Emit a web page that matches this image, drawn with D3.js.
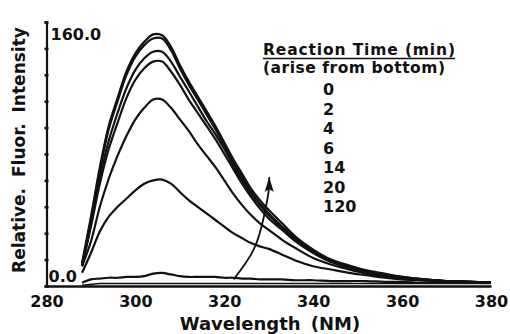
<!DOCTYPE html>
<html>
<head>
<meta charset="utf-8">
<script src="https://cdn.jsdelivr.net/npm/d3@7"></script>
<style>
  html, body { margin: 0; padding: 0; background: #fff; }
  svg text { font-family: "DejaVu Sans", sans-serif; font-weight: 700; fill: #111; }
</style>
</head>
<body>
<svg id="chart" width="510" height="334"></svg>
<script>
// emission wavelengths (nm) shared by every scan
var wavelengths = [288, 290, 292, 294, 296, 298, 300, 302, 304, 306, 308, 310, 312, 314, 316, 318, 320,
  322, 324, 326, 328, 330, 333, 336, 340, 344, 348, 352, 356, 360, 365, 370, 375, 380];

// relative fluorescence for each reaction time (min)
var t0   = [2, 4, 4.5, 5, 5, 5.5, 5.5, 6, 7.5, 8, 7, 6, 5.5, 5.5, 5.5, 5.5, 5,
  5, 4.5, 4.5, 4, 4, 4, 3.5, 3.5, 3, 3, 3, 2.5, 2.5, 2, 2, 2, 2];
var t2   = [8, 20, 33, 42, 48, 53, 58, 62, 64, 64.5, 62, 57, 52, 48, 44, 40, 36,
  32, 29, 26, 24, 22.5, 19, 15.5, 12, 10, 8, 6.5, 5, 4, 3.5, 3, 2.5, 2];
var t4   = [12, 27, 48, 65, 79, 91, 101, 108, 113, 113, 108, 101, 94, 86, 79, 72, 64,
  56, 49, 43, 38, 34, 28, 23, 17, 13, 10, 7.5, 6, 4.5, 3.5, 3, 2.5, 2];
var t6   = [12, 36, 62, 83, 99, 114, 125, 132, 136, 136, 130, 122, 113, 105, 97, 89, 80,
  71, 62, 54, 47, 41, 34, 27, 20, 14.5, 11, 8.5, 6.5, 5, 3.5, 3, 2.5, 2];
var t14  = [12, 38, 66, 88, 105, 120, 131, 138, 142, 142, 136, 127, 118, 109, 100, 92, 83,
  73, 64, 56, 49, 43, 35, 28, 20.5, 15, 11.5, 9, 7, 5, 4, 3, 2.5, 2];
var t20  = [13, 40, 70, 95, 112, 128, 139, 146, 150, 150, 143, 132, 122, 113, 104, 95, 85,
  75, 66, 57, 50, 44, 36, 29, 21, 15.5, 12, 9, 7, 5.5, 4, 3, 2.5, 2];
var t120 = [14, 42, 72, 97, 114, 130, 141, 148, 152.5, 152, 145, 134, 124, 115, 106, 97, 87,
  77, 68, 59, 52, 46, 38, 30, 22, 16, 12.5, 9.5, 7.5, 5.5, 4, 3, 2.5, 2];
// faint trace lying just on the baseline
var blank = [0.5, 1, 1.5, 1.5, 1.5, 1.5, 1.5, 1.5, 1.5, 1.5, 1.5, 1.5, 1.5, 1.5, 1.5, 1.5, 1.5,
  1.5, 1.5, 1.5, 1.5, 1.5, 1.5, 1.5, 1.5, 1.5, 1.5, 1.5, 1.5, 1.5, 1.5, 1.5, 1.5, 1.5];

var series = [t0, t2, t4, t6, t14, t20, t120, blank];
var legendTimes = ['0', '2', '4', '6', '14', '20', '120'];
var xTicks = [280, 300, 320, 340, 360, 380];
var yTicks = [0, 16, 32, 48, 64, 80, 96, 112, 128, 144, 160];

// "arise from bottom" arrow, in data units [nm, intensity]
var arrowPts = [[322.1, 4], [326.6, 22], [328.9, 42], [330, 58], [330.1, 66]];

var svg = d3.select('#chart');

var x = d3.scaleLinear().domain([280, 380]).range([46.5, 491]);
var y = d3.scaleLinear().domain([0, 160]).range([286, 22]);

var line = d3.line()
  .x((d) => x(d[0]))
  .y((d) => y(d[1]))
  .curve(d3.curveCatmullRom);

// spectra
svg.append('g')
  .selectAll('path')
  .data(series)
  .enter().append('path')
    .attr('d', (s) => line(wavelengths.map((w, i) => [w, s[i]])))
    .attr('fill', 'none')
    .attr('stroke', '#111')
    .attr('stroke-width', (s, i) => i === series.length - 1 ? 1.6 : 2.2)
    .attr('stroke-linejoin', 'round');

// y axis: ticks only, end labels drawn inside
var yAxis = svg.append('g')
  .attr('transform', 'translate(' + x(280) + ',0)')
  .call(d3.axisLeft(y).tickValues(yTicks).tickSize(2).tickFormat(''));
yAxis.select('.domain').attr('stroke', '#111').attr('stroke-width', 2.2);
yAxis.selectAll('.tick line').attr('stroke', '#111').attr('stroke-width', 2.5)
  .attr('x1', 2).attr('x2', -2);

// x axis: baseline plus labels, no tick marks
var xAxis = svg.append('g')
  .attr('transform', 'translate(0,' + y(0) + ')')
  .call(d3.axisBottom(x).tickValues(xTicks).tickSize(0).tickPadding(10).tickFormat(d3.format('d')));
xAxis.select('.domain').attr('stroke', '#111').attr('stroke-width', 2.6);
xAxis.selectAll('.tick text')
  .attr('font-size', 16)
  .attr('font-family', '"DejaVu Sans", sans-serif')
  .attr('font-weight', 700)
  .attr('fill', '#111');

svg.append('text')
  .attr('x', x(280) + 4).attr('y', y(160) + 18)
  .attr('font-size', 16)
  .text('160.0');
svg.append('text')
  .attr('x', x(280) + 2).attr('y', y(0) - 4)
  .attr('font-size', 16)
  .text('0.0');

// axis titles
svg.append('text')
  .attr('x', 270).attr('y', 330)
  .attr('text-anchor', 'middle')
  .attr('font-size', 18)
  .attr('word-spacing', 4)
  .text('Wavelength (NM)');
svg.append('text')
  .attr('transform', 'translate(25,150) rotate(-90)')
  .attr('text-anchor', 'middle')
  .attr('font-size', 17)
  .attr('word-spacing', 5)
  .text('Relative. Fluor. Intensity');

// legend
var legend = svg.append('g');
legend.append('text')
  .attr('x', 263).attr('y', 55)
  .attr('font-size', 15.5)
  .attr('textLength', 192)
  .text('Reaction Time (min)');
legend.append('line')
  .attr('x1', 263).attr('x2', 455)
  .attr('y1', 58.5).attr('y2', 58.5)
  .attr('stroke', '#111').attr('stroke-width', 1.6);
legend.append('text')
  .attr('x', 263).attr('y', 73)
  .attr('font-size', 15.5)
  .attr('textLength', 182)
  .text('(arise from bottom)');
legend.selectAll('.time')
  .data(legendTimes)
  .enter().append('text')
    .attr('class', 'time')
    .attr('x', 323)
    .attr('y', (d, i) => 95 + i * 19.5)
    .attr('font-size', 16)
    .text((d) => d);

// arrow: curved shaft plus a head at the last point
var tip = arrowPts[arrowPts.length - 1];
svg.append('path')
  .attr('d', d3.line().x((d) => x(d[0])).y((d) => y(d[1])).curve(d3.curveNatural)(arrowPts))
  .attr('fill', 'none')
  .attr('stroke', '#111')
  .attr('stroke-width', 1.8);
svg.append('path')
  .attr('transform', 'translate(' + x(tip[0]) + ',' + y(tip[1]) + ')')
  .attr('d', 'M-4.5,15 L0,0 L4.5,15 L0,12 Z')
  .attr('fill', '#111');
</script>
</body>
</html>
